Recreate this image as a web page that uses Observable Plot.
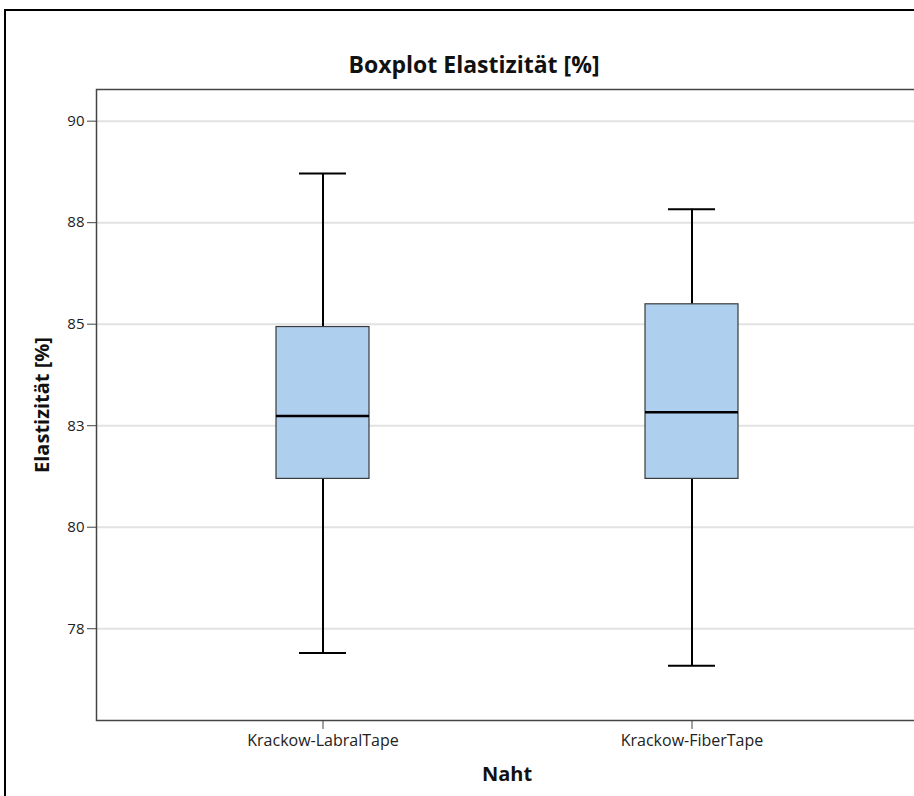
<!DOCTYPE html>
<html>
<head>
<meta charset="utf-8">
<script src="https://cdn.jsdelivr.net/npm/d3@7"></script>
<script src="https://cdn.jsdelivr.net/npm/@observablehq/plot@0.6"></script>
<style>
  html, body { margin: 0; padding: 0; background: #fff; overflow: hidden; }
  #wrap { position: relative; width: 914px; height: 796px; overflow: hidden; font-family: "Open Sans", "DejaVu Sans", sans-serif; }
  #border { position: absolute; left: 4px; top: 9px; width: 1000px; height: 1000px; border: 2px solid #000; box-sizing: border-box; }
  #chart { position: absolute; left: 0; top: 0; width: 920px; }
  #chart svg { max-width: none !important; width: 920px; height: 796px; }
  #title { position: absolute; left: 224px; width: 500px; top: 50px; line-height: 28px; text-align: center; font-weight: bold; font-size: 23px; color: #111; }
</style>
</head>
<body>
<div id="wrap">
  <div id="border"></div>
  <div id="chart"></div>
  <div id="title">Boxplot Elastizität [%]</div>
</div>
<script>
// Data
const categories = ["Krackow-LabralTape", "Krackow-FiberTape"];
const mins    = [76.90, 76.59];
const q1s     = [81.19, 81.19];
const medians = [82.74, 82.83];
const q3s     = [84.93, 85.49];
const maxs    = [88.71, 87.83];

const tickValues = [77.5, 80, 82.5, 85, 87.5, 90];
const tickLabels = ["78", "80", "83", "85", "88", "90"];

const data = categories.map((c, i) => ({
  naht: c, min: mins[i], q1: q1s[i], median: medians[i], q3: q3s[i], max: maxs[i]
}));
const labelOf = new Map(tickValues.map((v, i) => [v, tickLabels[i]]));

const chart = Plot.plot({
  width: 920,
  height: 796,
  marginTop: 89,
  marginBottom: 76,
  marginLeft: 96,
  marginRight: 3,
  style: { fontFamily: "'Open Sans', 'DejaVu Sans', sans-serif", fontSize: "15px", color: "#222", background: "transparent", maxWidth: "none" },
  x: {
    type: "band",
    domain: categories,
    paddingInner: 0.7486,
    paddingOuter: 0.4838,
    label: null
  },
  y: {
    domain: [75.24, 90.78],
    label: null
  },
  marks: [
    Plot.ruleY(tickValues, { stroke: "#e2e2e2", strokeWidth: 2 }),
    // whiskers
    Plot.ruleX(data, { x: "naht", y1: "q3", y2: "max", stroke: "#000", strokeWidth: 2 }),
    Plot.ruleX(data, { x: "naht", y1: "min", y2: "q1", stroke: "#000", strokeWidth: 2 }),
    Plot.tickY(data, { x: "naht", y: "max", stroke: "#000", strokeWidth: 2, insetLeft: 23, insetRight: 23 }),
    Plot.tickY(data, { x: "naht", y: "min", stroke: "#000", strokeWidth: 2, insetLeft: 23, insetRight: 23 }),
    // boxes
    Plot.barY(data, { x: "naht", y1: "q1", y2: "q3", fill: "#aecfee", stroke: "#3a3a3a", strokeWidth: 1.2 }),
    Plot.tickY(data, { x: "naht", y: "median", stroke: "#000", strokeWidth: 2.5 }),
    Plot.frame({ stroke: "#444", strokeWidth: 1.5 }),
    Plot.axisY({
      ticks: tickValues,
      tickFormat: d => labelOf.get(d),
      tickSize: 9,
      tickPadding: 3,
      stroke: "#444",
      fontSize: 15,
      label: "Elastizität [%]",
      labelAnchor: "center",
      labelArrow: "none",
      labelOffset: 62
    }),
    Plot.axisX({
      tickSize: 9,
      tickPadding: 5,
      stroke: "#444",
      fontSize: 16,
      label: "Naht",
      labelAnchor: "center",
      labelArrow: "none",
      labelOffset: 60
    })
  ]
});
document.getElementById("chart").appendChild(chart);
// bold axis titles
d3.select(chart).selectAll("[aria-label='y-axis label'], [aria-label='x-axis label']")
  .attr("font-weight", "bold").attr("font-size", 20).attr("fill", "#111");
</script>
</body>
</html>
